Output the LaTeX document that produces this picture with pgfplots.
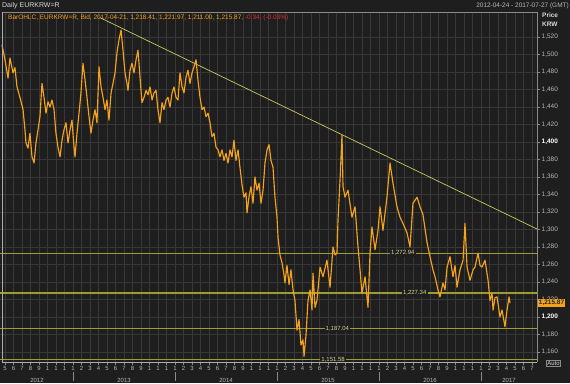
\documentclass[border=0pt]{standalone}
\usepackage{fontspec}
\setmainfont{Liberation Sans}
\usepackage{pgfplots}
\usepackage{pgfplotstable}
\pgfplotsset{compat=1.18}
\definecolor{bg}{HTML}{1E1E1E}
\definecolor{gridc}{HTML}{383838}
\definecolor{ser}{HTML}{F5A31A}
\definecolor{lvl}{HTML}{9E9E30}
\definecolor{lvltxt}{HTML}{D8D890}
\definecolor{trend}{HTML}{C8C860}
\definecolor{txt}{HTML}{B8B8B8}
\definecolor{frame}{HTML}{8A8A8A}
\definecolor{neg}{HTML}{E03030}

\pgfplotstableread{
t v
2012.304 1511
2012.333 1494
2012.363 1473
2012.382 1496
2012.412 1479
2012.431 1485
2012.451 1463
2012.480 1451
2012.510 1437
2012.529 1414
2012.539 1399
2012.559 1393
2012.578 1410
2012.598 1383
2012.618 1376
2012.637 1399
2012.657 1414
2012.676 1429
2012.696 1467
2012.716 1451
2012.735 1433
2012.755 1446
2012.775 1440
2012.794 1448
2012.814 1437
2012.833 1410
2012.853 1394
2012.873 1383
2012.892 1402
2012.912 1414
2012.931 1422
2012.951 1399
2012.971 1414
2012.990 1425
2013.010 1394
2013.020 1383
2013.039 1410
2013.059 1433
2013.078 1456
2013.098 1490
2013.118 1471
2013.137 1451
2013.157 1429
2013.176 1410
2013.196 1425
2013.216 1437
2013.235 1422
2013.255 1486
2013.275 1463
2013.294 1451
2013.314 1437
2013.333 1448
2013.353 1425
2013.373 1456
2013.392 1467
2013.412 1479
2013.431 1502
2013.451 1517
2013.471 1528
2013.490 1505
2013.510 1479
2013.529 1467
2013.539 1459
2013.559 1482
2013.578 1490
2013.598 1479
2013.618 1494
2013.637 1505
2013.657 1474
2013.676 1445
2013.696 1451
2013.716 1459
2013.735 1454
2013.755 1463
2013.775 1448
2013.794 1456
2013.814 1459
2013.833 1437
2013.853 1422
2013.873 1445
2013.892 1437
2013.912 1448
2013.931 1451
2013.951 1440
2013.971 1456
2013.990 1463
2014.010 1451
2014.029 1448
2014.049 1479
2014.069 1463
2014.088 1456
2014.108 1474
2014.127 1482
2014.147 1467
2014.167 1479
2014.186 1486
2014.206 1494
2014.225 1471
2014.245 1451
2014.265 1437
2014.284 1440
2014.304 1429
2014.324 1433
2014.343 1422
2014.363 1406
2014.382 1410
2014.402 1394
2014.422 1391
2014.441 1383
2014.461 1391
2014.480 1379
2014.500 1387
2014.520 1376
2014.539 1391
2014.559 1383
2014.578 1402
2014.598 1379
2014.618 1391
2014.637 1371
2014.657 1351
2014.676 1337
2014.696 1342
2014.706 1319
2014.725 1337
2014.745 1349
2014.765 1330
2014.784 1360
2014.804 1345
2014.824 1353
2014.843 1330
2014.863 1345
2014.882 1376
2014.902 1391
2014.922 1397
2014.941 1379
2014.961 1371
2014.980 1337
2015.000 1314
2015.010 1291
2015.029 1271
2015.049 1262
2015.069 1248
2015.078 1239
2015.098 1259
2015.118 1237
2015.137 1254
2015.157 1231
2015.176 1219
2015.196 1185
2015.216 1197
2015.235 1168
2015.255 1174
2015.265 1155
2015.284 1179
2015.304 1219
2015.324 1231
2015.343 1208
2015.353 1250
2015.373 1211
2015.392 1219
2015.422 1257
2015.451 1246
2015.490 1265
2015.520 1234
2015.549 1280
2015.569 1271
2015.588 1273
2015.598 1311
2015.618 1357
2015.637 1408
2015.647 1349
2015.667 1337
2015.696 1345
2015.735 1314
2015.765 1326
2015.794 1280
2015.814 1254
2015.833 1227
2015.863 1246
2015.892 1211
2015.912 1273
2015.931 1303
2015.961 1277
2015.990 1299
2016.010 1326
2016.039 1299
2016.078 1337
2016.108 1376
2016.137 1353
2016.176 1326
2016.206 1314
2016.235 1307
2016.275 1296
2016.304 1280
2016.333 1330
2016.373 1337
2016.402 1326
2016.431 1317
2016.471 1285
2016.500 1269
2016.529 1254
2016.549 1246
2016.578 1231
2016.598 1223
2016.627 1239
2016.647 1231
2016.667 1257
2016.696 1269
2016.725 1246
2016.745 1259
2016.765 1234
2016.794 1254
2016.824 1265
2016.843 1307
2016.863 1257
2016.892 1242
2016.922 1254
2016.941 1257
2016.971 1273
2016.990 1259
2017.010 1257
2017.039 1265
2017.069 1242
2017.088 1219
2017.108 1227
2017.118 1208
2017.137 1222
2017.157 1223
2017.176 1208
2017.186 1200
2017.206 1208
2017.235 1189
2017.255 1208
2017.275 1223
2017.284 1215.87
}\eurkrw

\begin{document}
\begin{tikzpicture}[x=1bp,y=1bp]
\useasboundingbox (0,0) rectangle (570,383);
\fill[bg] (0,0) rectangle (570,383);
\begin{axis}[
  at={(0bp,21bp)}, anchor=south west,
  scale only axis, width=537bp, height=350bp,
  xmin=3.412, xmax=66.588, ymin=1148.6, ymax=1548.6,
  axis line style={draw=none},
  xtick={4,...,66},
  xticklabels={5,6,7,8,9,1,1,1,1,2,3,4,5,6,7,8,9,1,1,1,1,2,3,4,5,6,7,8,9,1,1,1,1,2,3,4,5,6,7,8,9,1,1,1,1,2,3,4,5,6,7,8,9,1,1,1,1,2,3,4,5,6,7},
  ytick={1160,1180,1220,1240,1260,1280,1300,1320,1340,1360,1380,1420,1440,1460,1480,1500,1520},
  extra y ticks={1200,1400},
  extra y tick style={yticklabel style={font=\fontsize{6.5}{7}\selectfont\bfseries, text=white}},
  scaled y ticks=false,
  xtick pos=bottom, ytick pos=right, yticklabel pos=right,
  tick align=outside,
  major tick length=3bp,
  tick style={frame, line width=0.5bp},
  xticklabel style={font=\fontsize{6}{7}\selectfont, text=txt, inner sep=1bp},
  yticklabel style={font=\fontsize{6.5}{7}\selectfont, text=txt, inner sep=1.5bp},
  /pgf/number format/1000 sep={,},
  /pgf/number format/assume math mode=true,
  xmajorgrids, ymajorgrids,
  major grid style={gridc, line width=0.5bp},
]
\addplot[lvl, line width=1.4bp] coordinates {(3.412,1272.94) (66.588,1272.94)};
\addplot[lvl, line width=1.4bp] coordinates {(3.412,1227.34) (66.588,1227.34)};
\addplot[lvl, line width=1.4bp] coordinates {(3.412,1187.04) (66.588,1187.04)};
\addplot[lvl, line width=1.4bp] coordinates {(3.412,1151.58) (66.588,1151.58)};
\addplot[trend, line width=0.7bp] coordinates {(15.18,1542.1) (66.588,1300.6)};
\addplot[ser, line width=1.15bp, line join=round] table[x expr={(\thisrow{t}-2012)*12}, y=v] {\eurkrw};
\node[fill=bg, text=lvltxt, inner sep=1.2bp, font=\fontsize{6}{7}\selectfont] at (axis cs:50.8,1272.94) {1,272.94};
\node[fill=bg, text=lvltxt, inner sep=1.2bp, font=\fontsize{6}{7}\selectfont] at (axis cs:52.2,1227.34) {1,227.34};
\node[fill=bg, text=lvltxt, inner sep=1.2bp, font=\fontsize{6}{7}\selectfont] at (axis cs:43.1,1187.04) {1,187.04};
\node[fill=bg, text=lvltxt, inner sep=1.2bp, font=\fontsize{6}{7}\selectfont] at (axis cs:42.6,1151.58) {1,151.58};
\end{axis}
% frame
\draw[frame, line width=0.6bp] (2,371) -- (537,371);
\draw[frame, line width=1bp] (537,371) -- (537,21);
\draw[frame!70, line width=0.6bp] (2,371) -- (2,21) -- (537,21);
% header texts
\node[anchor=west, text=white!85!black, inner sep=0pt, font=\fontsize{7}{8}\selectfont] at (2,377.5) {Daily EURKRW=R};
\node[anchor=east, text=txt, inner sep=0pt, font=\fontsize{6.5}{8}\selectfont] at (569,377.5) {2012-04-24 - 2017-07-27 (GMT)};
\node[anchor=west, inner sep=0pt, font=\fontsize{6.5}{8}\selectfont] at (8,365) {\textcolor{ser}{BarOHLC, EURKRW=R, Bid, 2017-04-21, 1,218.41, 1,221.97, 1,211.00, 1,215.87,} \textcolor{neg}{-0.34, (-0.03\%)}};
\node[anchor=west, text=white!85!black, inner sep=0pt, font=\fontsize{6.5}{8}\selectfont\bfseries] at (542,367.5) {Price};
\node[anchor=west, text=white!85!black, inner sep=0pt, font=\fontsize{6.5}{8}\selectfont\bfseries] at (542,358.5) {KRW};
% last value tag
\node[anchor=west, fill=ser, text=black!85, inner sep=1.2bp, font=\fontsize{6.5}{7}\selectfont\bfseries] at (537.5,80) {1,215.87};
% auto box
\node[draw=frame, fill=bg, text=white!85!black, inner sep=1bp, font=\fontsize{6}{7}\selectfont] at (553.5,19.5) {Auto};
% year separators and labels
\foreach \px in {73,175,277,379,481} {\draw[frame, line width=0.5bp] (\px,2) -- (\px,11);}
\foreach \px/\yr in {37/2012,124/2013,226/2014,328/2015,430/2016,509/2017} {\node[text=txt, inner sep=0pt, font=\fontsize{6}{7}\selectfont] at (\px,3) {\yr};}
\end{tikzpicture}
\end{document}
